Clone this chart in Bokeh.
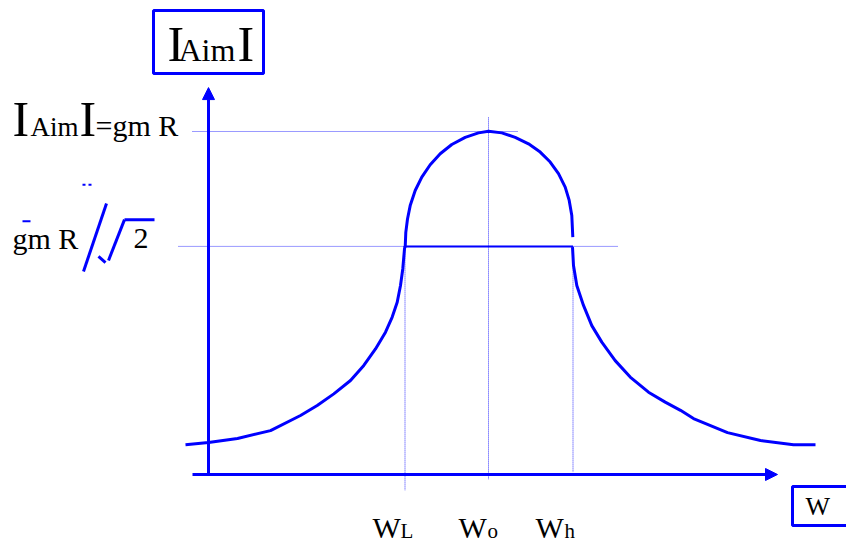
from bokeh.plotting import figure
from bokeh.models import Range1d, Arrow, NormalHead
from bokeh.core.properties import value
from bokeh.embed import file_html
from bokeh.resources import INLINE

# ---- data (omega in arbitrary units, gain normalised to peak = 1) ----
left_w = [-0.23, 0.00, 0.29, 0.62, 0.92, 1.087, 1.253, 1.42, 1.553, 1.67, 1.77, 1.837, 1.887,
          1.92, 1.943, 1.96, 1.965]
left_g = [0.087, 0.093, 0.105, 0.128, 0.172, 0.201, 0.235, 0.274, 0.318, 0.366, 0.415, 0.459, 0.502,
          0.551, 0.600, 0.658, 0.665]

dome_w = [1.967, 1.973, 1.99, 2.017, 2.067, 2.133, 2.217, 2.317, 2.433, 2.567, 2.70, 2.80, 2.933,
          3.067, 3.20, 3.317, 3.417, 3.50, 3.567, 3.607, 3.633, 3.643]
dome_g = [0.663, 0.706, 0.745, 0.784, 0.828, 0.867, 0.903, 0.935, 0.962, 0.983, 0.996, 1.001, 0.996,
          0.983, 0.964, 0.940, 0.911, 0.877, 0.838, 0.799, 0.755, 0.692]

right_w = [3.64, 3.65, 3.683, 3.75, 3.833, 3.933, 4.067, 4.217, 4.40, 4.567, 4.72, 4.85, 5.19,
           5.52, 5.85, 6.07]
right_g = [0.663, 0.609, 0.551, 0.493, 0.434, 0.386, 0.332, 0.284, 0.240, 0.211, 0.187, 0.163, 0.122,
           0.099, 0.087, 0.087]

w_L, w_0, w_h = 1.965, 2.80, 3.645
g_peak, g_cut = 1.0, 0.665

freq_labels = ["W", "W", "W"]
freq_subs = ["L", "o", "h"]

BLUE = "#0000FF"
SERIF = value("Liberation Serif")
PX_PER_G = 343.0   # vertical scale of the frame (pixels per unit gain)

p = figure(width=846, height=545, x_range=Range1d(-2.08, 6.38), y_range=Range1d(-0.2070, 1.3819),
           output_backend="svg", toolbar_location=None, x_axis_type=None, y_axis_type=None,
           min_border=0, background_fill_color="white", border_fill_color="white")
p.grid.visible = False
p.outline_line_color = None

# dotted guide lines
dot = dict(line_color=BLUE, line_width=1, line_dash="1 1", line_alpha=0.8)
p.line([-0.16, 3.10], [g_peak, g_peak], **dot)
p.line([-0.30, 4.10], [g_cut, g_cut], **dot)
p.line([w_0, w_0], [1.041, -0.015], **dot)
p.line([w_L, w_L], [g_cut, -0.047], **dot)
p.line([w_h, w_h], [g_cut, 0.006], **dot)

# solid -3dB chord
p.line([w_L, w_h], [g_cut, g_cut], line_color=BLUE, line_width=2)

# curve
for xs, ys in ((left_w, left_g), (dome_w, dome_g), (right_w, right_g)):
    p.line(xs, ys, line_color=BLUE, line_width=3, line_join="round")

# axes with arrows
p.add_layout(Arrow(end=NormalHead(size=12, fill_color=BLUE, line_color=BLUE),
                   x_start=0, y_start=0, x_end=0, y_end=1.128, line_color=BLUE, line_width=3))
p.add_layout(Arrow(end=NormalHead(size=12, fill_color=BLUE, line_color=BLUE),
                   x_start=-0.16, y_start=0, x_end=5.69, y_end=0, line_color=BLUE, line_width=3))


def label(xs, base, texts, size):
    # the svg renderer puts the alphabetic baseline ~0.33 em low; compensate
    lift = 0.33 * size / PX_PER_G
    p.text(x=xs, y=[base + lift] * len(xs), text=texts, text_font=SERIF,
           text_font_size=value(f"{size}px"), text_baseline="alphabetic",
           text_align="left", text_color="black")


# top box label |Aim|
p.quad(left=[-0.55], right=[0.55], top=[1.353], bottom=[1.169], fill_color=None, line_color=BLUE, line_width=3)
label([-0.41, 0.29], 1.207, ["I", "I"], 50)
label([-0.30], 1.207, ["Aim"], 32)

# left label |Aim|=gm R
label([-1.96, -1.29], 0.988, ["I", "I"], 50)
label([-1.78], 0.988, ["Aim"], 27)
label([-1.13], 0.988, ["=gm R"], 30)

# gm R / sqrt(2)
label([-1.96], 0.659, ["gm R"], 30)
label([-0.75], 0.659, ["2"], 30)
p.segment(x0=[-1.25, -1.10, -1.00, -0.84], y0=[0.592, 0.636, 0.624, 0.743],
          x1=[-1.02, -1.03, -0.84, -0.54], y1=[0.790, 0.618, 0.743, 0.743],
          line_color=BLUE, line_width=3)
p.segment(x0=[-1.86], y0=[0.738], x1=[-1.78], y1=[0.738], line_color=BLUE, line_width=2)
p.segment(x0=[-1.26], y0=[0.845], x1=[-1.17], y1=[0.845], line_color=BLUE, line_width=2, line_dash="3 3")

# frequency labels
label([1.64, 2.50, 3.27], -0.1837, freq_labels, 30)
label([1.92, 2.79, 3.56], -0.1837, freq_subs, 21)

# W box
p.quad(left=[5.84], right=[6.50], top=[-0.035], bottom=[-0.149], fill_color=None, line_color=BLUE, line_width=3)
label([5.97], -0.117, ["W"], 26)

open("out.html", "w").write(file_html(p, INLINE))
